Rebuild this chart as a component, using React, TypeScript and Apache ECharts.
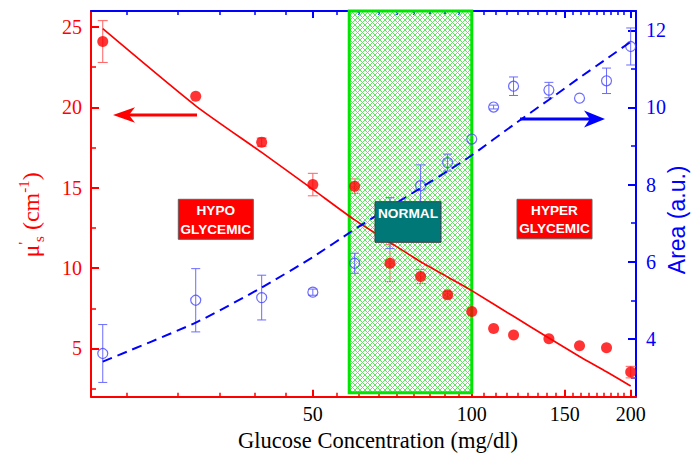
import React, { useEffect, useRef } from "react";
import * as echarts from "echarts";

// Glucose concentration (mg/dl) of each measurement
const GLUCOSE = [20, 30, 40, 50, 60, 70, 80, 90, 100, 110, 120, 140, 160, 180, 200];
// Reduced scattering coefficient mu's (cm^-1)
const MUS = [24.1, 20.7, 17.84, 15.2, 15.1, 10.31, 9.48, 8.34, 7.3, 6.24, 5.84, 5.6, 5.17, 5.04, 3.53];
const MUS_ERR = [1.3, 0, 0.25, 0.7, 0.45, 1.15, 0.44, 0.2, 0, 0, 0, 0, 0, 0, 0.36];
// Area (a.u.)
const AREA = [3.62, 5.0, 5.07, 5.21, 5.96, 7.0, 7.97, 8.57, 9.18, 10.01, 10.55, 10.45, 10.24, 10.69, 11.58];
const AREA_ERR = [0.75, 0.82, 0.58, 0.08, 0.26, 0.66, 0.54, 0.22, 0, 0.05, 0.24, 0.2, 0, 0.33, 0.48];
// Fit curves
const FIT_X = [20, 30, 40, 50, 60, 70, 80, 90, 100, 120, 140, 160, 180, 200];
const MUS_FIT = [24.9, 20.1, 17.2, 14.9, 13.0, 11.6, 10.4, 9.45, 8.6, 7.0, 5.65, 4.5, 3.55, 2.67];
const AREA_FIT = [3.41, 4.42, 5.33, 6.12, 6.84, 7.42, 7.91, 8.35, 8.76, 9.55, 10.2, 10.77, 11.26, 11.7];

// Axes
const X_RANGE = [19.0, 204.7];
const X_TICKS = [50, 100, 150, 200];
const X_MINOR_STEP = 50 / 9;
const Y_LEFT_RANGE = [2, 26];
const Y_LEFT_TICKS = [5, 10, 15, 20, 25];
const Y_LEFT_MINOR = [2.5, 7.5, 12.5, 17.5, 22.5];
const Y_RIGHT_RANGE = [2.5, 12.5];
const Y_RIGHT_TICKS = [4, 6, 8, 10, 12];
const Y_RIGHT_MINOR = [3, 5, 7, 9, 11];
// Normal glycemic region
const NORMAL_X = [58.6, 100];
const NORMAL_Y = [2.25, 26];

const L = Math.log;

function xMinor(): number[] {
  const out: number[] = [];
  for (let k = 1; k < 40; k++) {
    const v = k * X_MINOR_STEP;
    if (v < X_RANGE[0] || v > X_RANGE[1]) continue;
    if (Math.abs(v / 50 - Math.round(v / 50)) < 1e-6) continue;
    out.push(L(v));
  }
  return out;
}

function makeHatch() {
  const n = 5;
  const c = document.createElement("canvas");
  c.width = n;
  c.height = n;
  const ctx = c.getContext("2d")!;
  ctx.fillStyle = "#62e462";
  for (let i = 0; i < n; i++) {
    ctx.fillRect(i, i, 1, 1);
    ctx.fillRect(n - 1 - i, i, 1, 1);
  }
  return c;
}

const RED = "#ff0000";
const BLUE = "#0000ff";
const SERIF = "Liberation Serif";
const SANS = "Liberation Sans";

function errRender(color: string, hw: number) {
  return (params: any, api: any) => {
    const x = api.value(0);
    const y = api.value(1);
    const e = api.value(2);
    if (!e) return { type: "group", children: [] };
    const t = api.coord([x, y + e]);
    const b = api.coord([x, y - e]);
    const st = { stroke: color, lineWidth: 1 };
    return {
      type: "group",
      children: [
        { type: "line", shape: { x1: t[0], y1: t[1], x2: b[0], y2: b[1] }, style: st },
        { type: "line", shape: { x1: t[0] - hw, y1: t[1], x2: t[0] + hw, y2: t[1] }, style: st },
        { type: "line", shape: { x1: b[0] - hw, y1: b[1], x2: b[0] + hw, y2: b[1] }, style: st },
      ],
    };
  };
}

export default function App() {
  const ref = useRef<HTMLDivElement>(null);
  useEffect(() => {
    if (!ref.current) return;
    const chart = echarts.init(ref.current, null, { renderer: "svg" });
    const hatch = makeHatch();
    const xmin = L(X_RANGE[0]);
    const xmax = L(X_RANGE[1]);
    const minorX = xMinor();
    const baseX = (pos: string, color: string, major: boolean, labels: boolean) => ({
      type: "value",
      position: pos,
      min: xmin,
      max: xmax,
      splitLine: { show: false },
      axisLine: { show: major, lineStyle: { color, width: 2 } },
      axisTick: {
        show: true,
        inside: true,
        length: major ? 7 : 4,
        lineStyle: { color, width: major ? 2 : 1.5 },
        customValues: major ? X_TICKS.map(L) : minorX,
      },
      axisLabel: labels
        ? {
            show: true,
            customValues: X_TICKS.map(L),
            formatter: (v: number) => String(Math.round(Math.exp(v))),
            color: "#000",
            fontFamily: SERIF,
            fontSize: 20,
            margin: 7,
          }
        : { show: false },
    });
    const baseY = (
      pos: string,
      color: string,
      range: number[],
      ticks: number[],
      major: boolean,
      margin: number
    ) => ({
      type: "value",
      position: pos,
      min: range[0],
      max: range[1],
      splitLine: { show: false },
      axisLine: { show: major, lineStyle: { color, width: 2 } },
      axisTick: {
        show: true,
        inside: true,
        length: major ? 8 : 5,
        lineStyle: { color, width: major ? 2 : 1.5 },
        customValues: ticks,
      },
      axisLabel: major
        ? {
            show: true,
            customValues: ticks,
            color,
            fontFamily: SERIF,
            fontSize: 20,
            margin,
          }
        : { show: false },
    });

    const xBottom: any = baseX("bottom", RED, true, true);
    xBottom.name = "Glucose Concentration (mg/dl)";
    xBottom.nameLocation = "middle";
    xBottom.nameGap = 32;
    xBottom.nameMoveOverlap = false;
    xBottom.nameTextStyle = { color: "#000", fontFamily: SERIF, fontSize: 22.5, padding: [0, 0, 0, 29] };

    const yLeft: any = baseY("left", RED, Y_LEFT_RANGE, Y_LEFT_TICKS, true, 9);
    yLeft.name = "{m|μ}{p|'}{s|s}{m| (cm}{p|-1}{m|)}";
    yLeft.nameLocation = "middle";
    yLeft.nameRotate = 90;
    yLeft.nameGap = 45;
    yLeft.nameMoveOverlap = false;
    yLeft.nameTextStyle = {
      color: RED,
      padding: [0, 22, 0, 0],
      rich: {
        m: { fontFamily: SERIF, fontSize: 24, lineHeight: 30, color: RED, verticalAlign: "middle" },
        p: { fontFamily: SERIF, fontSize: 15, lineHeight: 15, color: RED, verticalAlign: "top" },
        s: { fontFamily: SERIF, fontSize: 15, lineHeight: 15, color: RED, verticalAlign: "bottom" },
      },
    };

    const yRight: any = baseY("right", BLUE, Y_RIGHT_RANGE, Y_RIGHT_TICKS, true, 10);
    yRight.name = "Area (a.u.)";
    yRight.nameLocation = "middle";
    yRight.nameRotate = 90;
    yRight.nameGap = 29;
    yRight.nameMoveOverlap = false;
    yRight.nameTextStyle = {
      color: BLUE,
      fontFamily: SANS,
      fontSize: 23,
      padding: [0, 32, 0, 0],
    };

    const P = (xs: number[], ys: number[]) => xs.map((x, i) => [L(x), ys[i]]);
    const PE = (xs: number[], ys: number[], es: number[]) => xs.map((x, i) => [L(x), ys[i], es[i]]);

    const option: any = {
      animation: false,
      backgroundColor: "#fff",
      grid: { left: 91, top: 11, width: 545, height: 385.7, containLabel: false, outerBoundsMode: "none" },
      xAxis: [
        xBottom,
        baseX("bottom", RED, false, false),
        baseX("top", BLUE, true, false),
        baseX("top", BLUE, false, false),
      ],
      yAxis: [
        yLeft,
        baseY("left", RED, Y_LEFT_RANGE, Y_LEFT_MINOR, false, 9),
        yRight,
        baseY("right", BLUE, Y_RIGHT_RANGE, Y_RIGHT_MINOR, false, 10),
      ],
      series: [
        {
          type: "custom",
          name: "mus-err",
          xAxisIndex: 0,
          yAxisIndex: 0,
          renderItem: errRender("#ff6060", 5),
          encode: { x: 0, y: 1 },
          data: PE(GLUCOSE, MUS, MUS_ERR),
        },
        {
          type: "scatter",
          name: "mus",
          xAxisIndex: 0,
          yAxisIndex: 0,
          symbol: "circle",
          symbolSize: 11,
          itemStyle: { color: RED },
          data: P(GLUCOSE, MUS),
        },
        {
          type: "custom",
          name: "normal",
          xAxisIndex: 0,
          yAxisIndex: 0,
          encode: { x: [0, 1], y: [2, 3] },
          data: [[L(NORMAL_X[0]), L(NORMAL_X[1]), NORMAL_Y[0], NORMAL_Y[1]]],
          renderItem: (params: any, api: any) => {
            const a = api.coord([api.value(0), api.value(3)]);
            const b = api.coord([api.value(1), api.value(2)]);
            const shape = { x: a[0], y: a[1], width: b[0] - a[0], height: b[1] - a[1] };
            return {
              type: "group",
              children: [
                { type: "rect", shape, style: { fill: { image: hatch, repeat: "repeat" } } },
                { type: "rect", shape, style: { fill: "none", stroke: "#00e600", lineWidth: 3 } },
              ],
            };
          },
        },
        {
          type: "line",
          name: "mus-fit",
          xAxisIndex: 0,
          yAxisIndex: 0,
          showSymbol: false,
          smooth: 0.2,
          lineStyle: { color: RED, width: 1.7 },
          data: P(FIT_X, MUS_FIT),
        },
        {
          type: "line",
          name: "area-fit",
          xAxisIndex: 0,
          yAxisIndex: 2,
          showSymbol: false,
          smooth: 0.2,
          lineStyle: { color: BLUE, width: 2, type: [10, 6] },
          data: P(FIT_X, AREA_FIT),
        },
        {
          type: "custom",
          name: "area-err",
          xAxisIndex: 0,
          yAxisIndex: 2,
          renderItem: errRender("#6b6bff", 4.5),
          encode: { x: 0, y: 1 },
          data: PE(GLUCOSE, AREA, AREA_ERR),
        },
        {
          type: "scatter",
          name: "area",
          xAxisIndex: 0,
          yAxisIndex: 2,
          symbol: "circle",
          symbolSize: 10,
          itemStyle: { color: "rgba(0,0,0,0)", borderColor: "#4646ff", borderWidth: 1.2 },
          data: P(GLUCOSE, AREA),
        },
      ],
      graphic: [
        { type: "line", z: 100, shape: { x1: 128, y1: 115, x2: 197, y2: 115 }, style: { stroke: RED, lineWidth: 3 } },
        {
          type: "polygon",
          z: 100,
          shape: { points: [[113, 115], [135, 107.3], [129, 115], [135, 122.7]] },
          style: { fill: RED },
        },
        { type: "line", z: 100, shape: { x1: 520, y1: 119, x2: 591, y2: 119 }, style: { stroke: BLUE, lineWidth: 3 } },
        {
          type: "polygon",
          z: 100,
          shape: { points: [[605, 119], [584, 110.5], [590, 119], [584, 127.5]] },
          style: { fill: BLUE },
        },
        {
          type: "rect",
          z: 100,
          shape: { x: 178.3, y: 199.3, width: 75, height: 40 },
          style: { fill: "#ff0000", stroke: "#606060", lineWidth: 1 },
        },
        {
          type: "text",
          z: 101,
          x: 215.8,
          y: 220,
          style: {
            text: "HYPO\nGLYCEMIC",
            fill: "#fff",
            font: "bold 13.6px 'Liberation Sans'",
            lineHeight: 18.6,
            align: "center",
            verticalAlign: "middle",
          },
        },
        {
          type: "rect",
          z: 100,
          shape: { x: 517, y: 199.3, width: 75, height: 39.5 },
          style: { fill: "#ff0000", stroke: "#606060", lineWidth: 1 },
        },
        {
          type: "text",
          z: 101,
          x: 554.5,
          y: 219.5,
          style: {
            text: "HYPER\nGLYCEMIC",
            fill: "#fff",
            font: "bold 13.6px 'Liberation Sans'",
            lineHeight: 18.6,
            align: "center",
            verticalAlign: "middle",
          },
        },
        {
          type: "rect",
          z: 100,
          shape: { x: 375, y: 201.7, width: 66, height: 40.6 },
          style: { fill: "#007878", stroke: "#404040", lineWidth: 1 },
        },
        {
          type: "text",
          z: 101,
          x: 408,
          y: 213.5,
          style: {
            text: "NORMAL",
            fill: "#fff",
            font: "bold 13.7px 'Liberation Sans'",
            align: "center",
            verticalAlign: "middle",
          },
        },
      ],
    };
    chart.setOption(option);
    return () => chart.dispose();
  }, []);
  return (
    <div
      ref={ref}
      style={{ position: "absolute", left: 0, top: 0, width: 693, height: 454, background: "#fff" }}
    />
  );
}
